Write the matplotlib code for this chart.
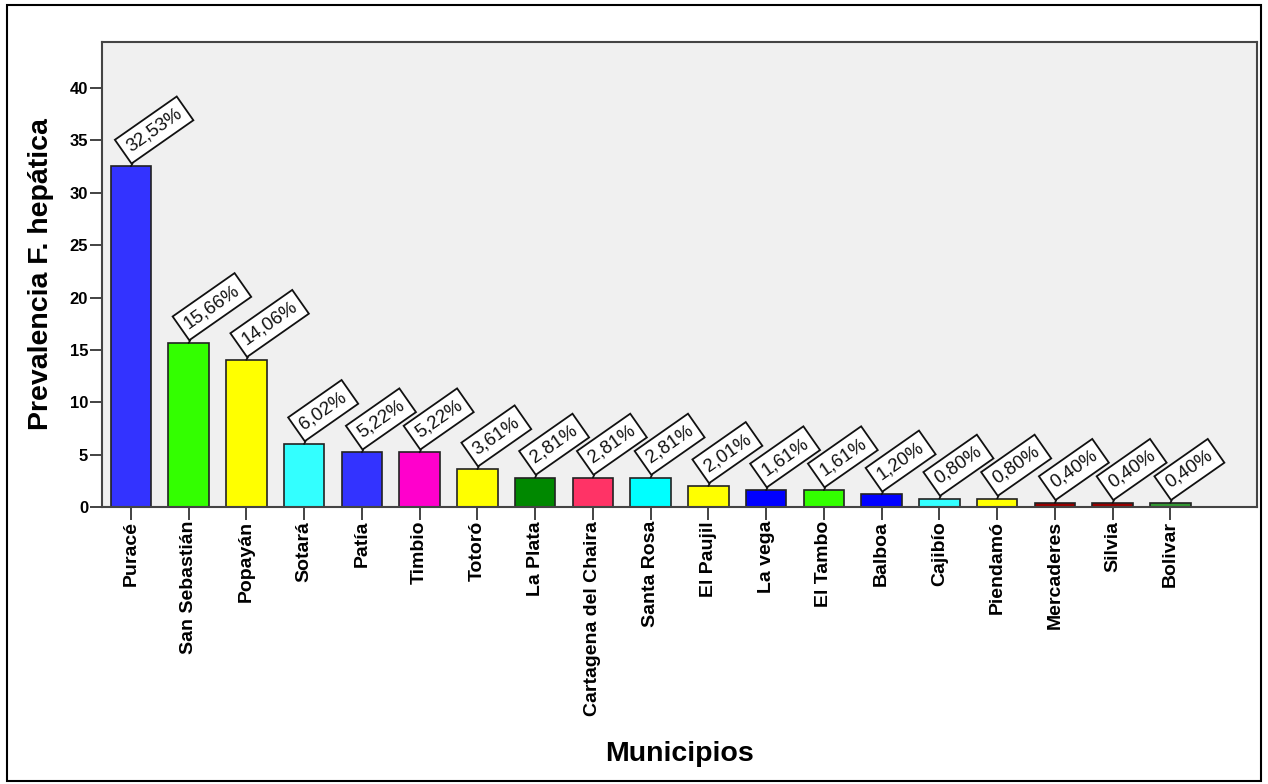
import matplotlib
matplotlib.use("Agg")
import matplotlib.pyplot as plt
from matplotlib.patches import Rectangle
import numpy as np

plt.rcParams['font.family'] = ['Liberation Sans', 'DejaVu Sans']

# datos por municipio
municipios = ["Puracé", "San Sebastián", "Popayán", "Sotará", "Patía", "Timbio",
              "Totoró", "La Plata", "Cartagena del Chaira", "Santa Rosa", "El Paujil",
              "La vega", "El Tambo", "Balboa", "Cajibío", "Piendamó", "Mercaderes",
              "Silvia", "Bolivar"]
prevalencia = [32.53, 15.66, 14.06, 6.02, 5.22, 5.22, 3.61, 2.81, 2.81, 2.81,
               2.01, 1.61, 1.61, 1.20, 0.80, 0.80, 0.40, 0.40, 0.40]
colores = ["#3333FF", "#33FF00", "#FFFF00", "#33FFFF", "#3333FF", "#FF00CC",
           "#FFFF00", "#008800", "#FF3366", "#00FFFF", "#FFFF00", "#0000FF",
           "#33FF00", "#0000FF", "#33FFFF", "#FFFF00", "#990000", "#990000",
           "#339933"]
yticks = [0, 5, 10, 15, 20, 25, 30, 35, 40]

fig = plt.figure(figsize=(12.68, 7.84), dpi=100)
ax = fig.add_axes([0.0804, 0.3533, 0.9109, 0.5931])
ax.set_facecolor("#F0F0F0")

x = np.arange(len(municipios))
ax.bar(x, prevalencia, width=0.7, color=colores, edgecolor="#222222", linewidth=1.2, zorder=2)

# etiquetas giradas con el porcentaje
fs = 13.5
pad = 0.32
ang = np.deg2rad(35)
p = pad * fs
dx = p * (np.cos(ang) - np.sin(ang))
dy = p * (np.sin(ang) + np.cos(ang)) + 2
for xi, v in zip(x, prevalencia):
    txt = f"{v:.2f}%".replace(".", ",")
    ax.annotate(txt, xy=(xi, v), xytext=(dx + 0.5, dy), textcoords="offset points",
                rotation=35, rotation_mode="anchor", ha="left", va="bottom",
                fontsize=fs, color="#111111", zorder=4,
                bbox=dict(boxstyle=f"square,pad={pad}", fc="white", ec="#111111", lw=1.3),
                arrowprops=dict(arrowstyle="-", color="#111111", lw=1.2,
                                shrinkA=0, shrinkB=0))

ax.set_xlim(-0.5, len(municipios) + 0.5)
ax.set_ylim(0, 44.4)
ax.set_yticks(yticks)
ax.set_yticklabels([str(t) for t in yticks], fontsize=12, fontweight="bold")
ax.set_xticks(x)
ax.set_xticklabels(municipios, rotation=90, fontsize=14, fontweight="bold")
ax.tick_params(axis="both", length=9, width=1.2, color="#222222", pad=1)

for s in ax.spines.values():
    s.set_color("#444444")
    s.set_linewidth(1.5)

ax.set_ylabel("Prevalencia F. hepática", fontsize=20.5, fontweight="bold")
ax.yaxis.set_label_coords(-0.053, 0.5)
ax.set_xlabel("Municipios", fontsize=20.5, fontweight="bold")
ax.xaxis.set_label_coords(0.5, -0.531)
ax.xaxis.label.set_va("center")
ax.yaxis.label.set_va("center")

# marco exterior
fig.patches.append(Rectangle((0.0055, 0.004), 0.989, 0.9898, transform=fig.transFigure,
                             fill=False, ec="black", lw=1.5))

fig.savefig("out.png", dpi=100)
